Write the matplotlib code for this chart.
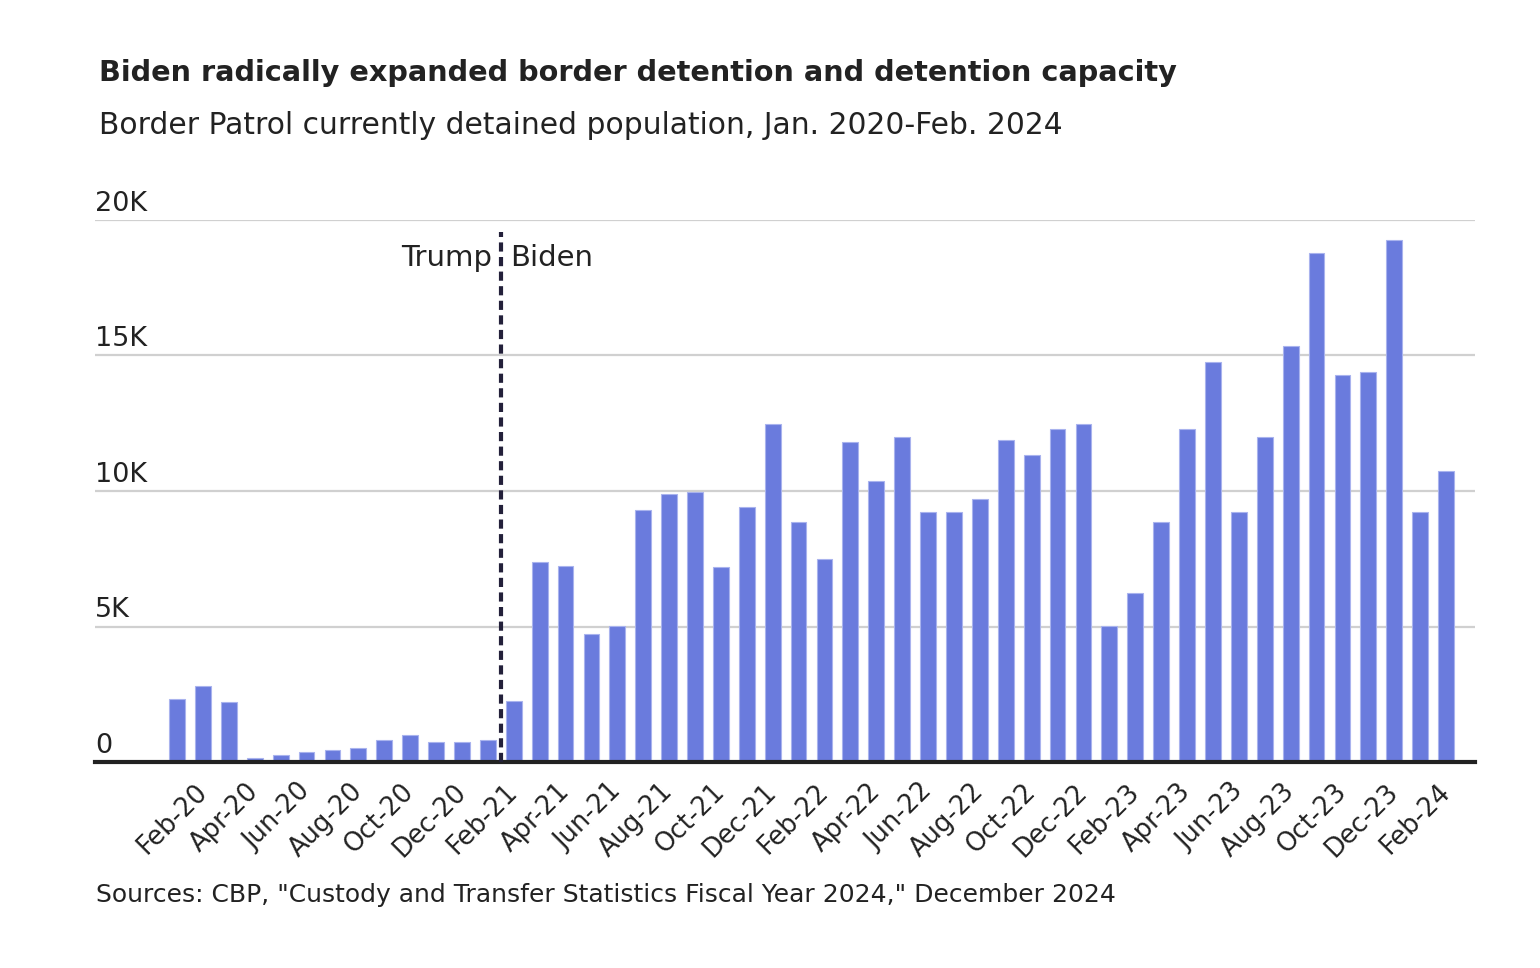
import matplotlib
matplotlib.use("Agg")
import matplotlib.pyplot as plt
import matplotlib.transforms as mtransforms
import numpy as np

months = ["Jan-20","Feb-20","Mar-20","Apr-20","May-20","Jun-20","Jul-20","Aug-20","Sep-20","Oct-20","Nov-20","Dec-20",
          "Jan-21","Feb-21","Mar-21","Apr-21","May-21","Jun-21","Jul-21","Aug-21","Sep-21","Oct-21","Nov-21","Dec-21",
          "Jan-22","Feb-22","Mar-22","Apr-22","May-22","Jun-22","Jul-22","Aug-22","Sep-22","Oct-22","Nov-22","Dec-22",
          "Jan-23","Feb-23","Mar-23","Apr-23","May-23","Jun-23","Jul-23","Aug-23","Sep-23","Oct-23","Nov-23","Dec-23",
          "Jan-24","Feb-24"]
detained = [2320, 2800, 2200, 150, 250, 370, 450, 520, 800, 1000, 740, 740,
            800, 2250, 7380, 7230, 4720, 5020, 9300, 9890, 9960, 7200, 9410, 12470,
            8860, 7490, 11800, 10370, 11990, 9230, 9230, 9700, 11880, 11330, 12290, 12470,
            5020, 6240, 8860, 12290, 14760, 9230, 11990, 15350, 18780, 14280, 14390, 19260,
            9230, 10740]
yticks = [0, 5000, 10000, 15000, 20000]
ytick_labels = ["0", "5K", "10K", "15K", "20K"]

FONT = ["DejaVu Sans"]
TXT = "#222222"
plt.rcParams["font.family"] = FONT

fig = plt.figure(figsize=(15.4, 9.68), dpi=100)
ax = fig.add_axes([95/1540, 206/968, 1380/1540, 542/968])

x = np.arange(len(months))
ax.bar(x, detained, width=0.61, color="#6a7bdd", edgecolor="#a9b3ee", linewidth=0.8, zorder=3)

ax.set_xlim(-3.17, 50.12)
ax.set_ylim(0, 20000)

for yv, lab in zip(yticks, ytick_labels):
    if yv > 0:
        ax.axhline(yv, color="#d0d0d0", linewidth=1.6, zorder=1)
    ax.text(0, yv + 340, lab, transform=ax.get_yaxis_transform(), ha="left", va="baseline",
            fontsize=19.5, color=TXT)

ax.axhline(0, color="#222222", linewidth=3, zorder=4, clip_on=False)

ax.set_yticks([])
ax.set_xticks(x[1::2])
ax.set_xticklabels(months[1::2], rotation=45, ha="right", va="top",
                   rotation_mode="anchor", fontsize=18.5, color=TXT)
ax.tick_params(axis="x", length=0, pad=12)
shift = mtransforms.ScaledTranslation(-9/100, 0, fig.dpi_scale_trans)
for lab in ax.get_xticklabels():
    lab.set_transform(lab.get_transform() + shift)
for s in ax.spines.values():
    s.set_visible(False)

# Trump/Biden divider
ax.axvline(12.5, ymin=0, ymax=0.978, color="#23203a", linewidth=3, linestyle=(0, (2.2, 1.3)), zorder=5)
ax.text(12.5 - 0.35, 18600, "Trump", ha="right", va="center", fontsize=21, color=TXT)
ax.text(12.5 + 0.35, 18600, "Biden", ha="left", va="center", fontsize=21, color=TXT)

fig.text(99/1540, 1 - 73/968, "Biden radically expanded border detention and detention capacity",
         ha="left", va="center", fontsize=20.7, fontweight="bold", color=TXT)
fig.text(99/1540, 1 - 125/968, "Border Patrol currently detained population, Jan. 2020-Feb. 2024",
         ha="left", va="center", fontsize=21.4, color=TXT)
fig.text(96/1540, 1 - 895/968, 'Sources: CBP, "Custody and Transfer Statistics Fiscal Year 2024," December 2024',
         ha="left", va="center", fontsize=18, color=TXT)

fig.savefig("out.png", dpi=100)
